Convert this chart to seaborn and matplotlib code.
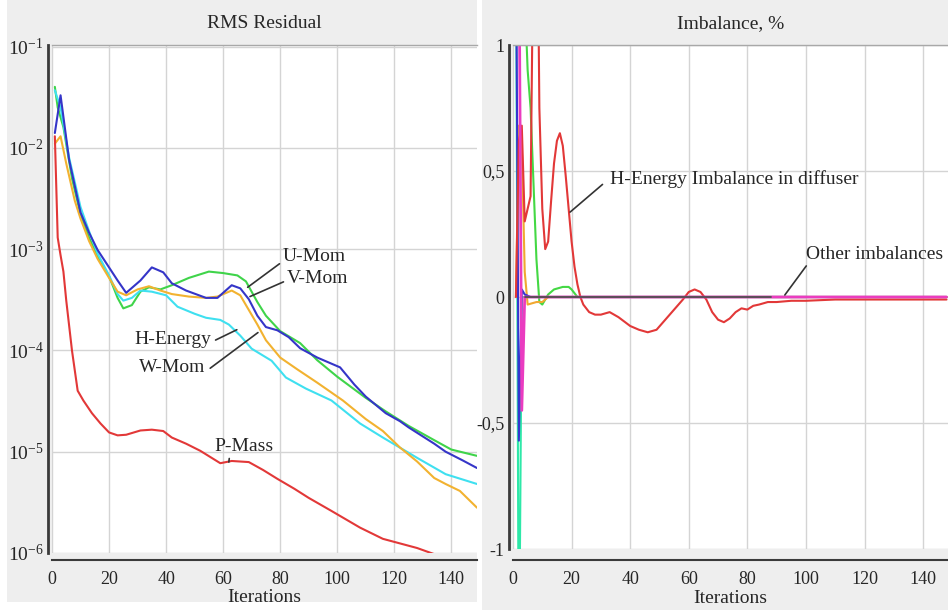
import matplotlib
matplotlib.use("Agg")
import matplotlib.pyplot as plt
from matplotlib.patches import Rectangle
from matplotlib.ticker import MultipleLocator, LogLocator, LogFormatterSciNotation, FuncFormatter, NullFormatter
import pandas as pd
import seaborn as sns

# ---------------- RMS residual histories ----------------
p_mass_iter = [1, 2, 3, 4, 5, 7, 9, 11, 14, 17, 20, 23, 26, 31, 35, 39, 42, 47, 52, 59,
               63, 69, 74, 79, 85, 90, 98, 108, 116, 128, 136, 141]
p_mass = [1.3e-2, 1.3e-3, 8.7e-4, 6.0e-4, 3.1e-4, 1.0e-4, 4.0e-5, 3.2e-5, 2.4e-5, 1.9e-5,
          1.55e-5, 1.45e-5, 1.47e-5, 1.62e-5, 1.65e-5, 1.6e-5, 1.38e-5, 1.2e-5, 1.02e-5, 7.7e-6,
          8.1e-6, 7.9e-6, 6.6e-6, 5.4e-6, 4.3e-6, 3.5e-6, 2.6e-6, 1.78e-6, 1.38e-6, 1.12e-6, 9.3e-7, 8.0e-7]

u_mom_iter = [1, 2, 4, 7, 10, 13, 16, 20, 23, 25, 28, 31, 34, 38, 42, 48, 55, 60, 65, 68,
              72, 75, 80, 87, 93, 100, 110, 117, 125, 134, 140, 149]
u_mom = [4.0e-2, 2.5e-2, 1.6e-2, 5.0e-3, 2.2e-3, 1.3e-3, 8.5e-4, 5.4e-4, 3.3e-4, 2.6e-4,
         2.8e-4, 3.8e-4, 4.2e-4, 4.0e-4, 4.4e-4, 5.2e-4, 6.0e-4, 5.8e-4, 5.5e-4, 4.8e-4,
         3.0e-4, 2.2e-4, 1.55e-4, 1.18e-4, 8.0e-5, 5.5e-5, 3.4e-5, 2.5e-5, 1.8e-5, 1.3e-5, 1.05e-5, 9.1e-6]

v_mom_iter = [1, 3, 6, 9, 10, 13, 16, 20, 23, 26, 31, 35, 39, 42, 47, 54, 58, 63, 66, 69,
              72, 75, 79, 83, 87, 93, 101, 106, 110, 117, 122, 125, 134, 138, 144, 149]
v_mom = [1.4e-2, 3.3e-2, 7.6e-3, 3.1e-3, 2.3e-3, 1.45e-3, 9.8e-4, 6.6e-4, 4.9e-4, 3.7e-4,
         4.9e-4, 6.6e-4, 5.9e-4, 4.6e-4, 3.9e-4, 3.3e-4, 3.3e-4, 4.4e-4, 4.1e-4, 3.2e-4,
         2.2e-4, 1.7e-4, 1.58e-4, 1.35e-4, 1.05e-4, 8.5e-5, 6.8e-5, 4.6e-5, 3.5e-5, 2.4e-5,
         2.0e-5, 1.74e-5, 1.2e-5, 1.0e-5, 8.2e-6, 6.9e-6]

w_mom_iter = [1, 3, 5, 8, 10, 13, 16, 20, 23, 26, 30, 34, 38, 42, 48, 54, 58, 63, 66, 68,
              72, 75, 80, 86, 93, 102, 110, 116, 122, 128, 134, 138, 143, 149]
w_mom = [1.1e-2, 1.3e-2, 7.0e-3, 3.0e-3, 2.0e-3, 1.2e-3, 8.0e-4, 5.2e-4, 3.8e-4, 3.5e-4,
         4.0e-4, 4.3e-4, 3.9e-4, 3.6e-4, 3.4e-4, 3.3e-4, 3.4e-4, 3.9e-4, 3.5e-4, 2.8e-4,
         1.8e-4, 1.26e-4, 8.5e-5, 6.5e-5, 4.8e-5, 3.2e-5, 2.1e-5, 1.6e-5, 1.1e-5, 8.0e-6,
         5.5e-6, 4.8e-6, 4.1e-6, 2.8e-6]

h_energy_iter = [1, 3, 6, 10, 13, 16, 20, 23, 25, 28, 31, 35, 40, 44, 50, 54, 59, 62, 66, 70,
                 77, 82, 89, 98, 108, 116, 128, 138, 149]
h_energy = [3.7e-2, 2.5e-2, 8.0e-3, 2.6e-3, 1.5e-3, 9.0e-4, 5.5e-4, 3.6e-4, 3.1e-4, 3.3e-4,
            3.9e-4, 3.8e-4, 3.5e-4, 2.7e-4, 2.3e-4, 2.1e-4, 2.0e-4, 1.8e-4, 1.4e-4, 1.04e-4,
            7.9e-5, 5.4e-5, 4.2e-5, 3.2e-5, 1.9e-5, 1.38e-5, 8.7e-6, 6.0e-6, 4.8e-6]

# ---------------- Imbalance histories, % ----------------
diffuser_iter = [1, 2, 3, 4, 6, 7, 8, 9, 10, 11, 12, 13, 14, 15, 16, 17, 18, 19, 20, 21, 22,
                 23, 24, 26, 28, 30, 33, 36, 40, 43, 46, 49, 52, 55, 58, 60, 62, 64, 66, 68, 70,
                 72, 74, 76, 78, 80, 82, 84, 87, 90, 95, 100, 110, 120, 130, 140, 148]
diffuser = [0.0, 0.62, 0.68, 0.3, 0.4, 1.5, 2.0, 0.75, 0.35, 0.19, 0.22, 0.38, 0.53, 0.62, 0.65,
            0.6, 0.48, 0.35, 0.22, 0.12, 0.05, 0.0, -0.03, -0.06, -0.07, -0.07, -0.06, -0.08,
            -0.115, -0.13, -0.14, -0.13, -0.09, -0.05, -0.01, 0.02, 0.03, 0.02, -0.01, -0.06,
            -0.09, -0.1, -0.085, -0.06, -0.045, -0.05, -0.035, -0.03, -0.02, -0.02, -0.015,
            -0.015, -0.01, -0.01, -0.01, -0.01, -0.01]

base_iter = [4, 88]
base = [0.0, 0.0]

green_iter = [1, 3, 4, 5, 6, 7, 8, 9, 10, 12, 14, 17, 19, 20, 22, 25, 148]
green = [1.5, 1.5, 1.2, 0.9, 0.75, 0.45, 0.15, -0.02, -0.03, 0.01, 0.03, 0.04, 0.04, 0.03, 0.0, 0.0, 0.0]

teal_iter = [1, 2, 3, 148]
teal = [1.5, -1.6, 0.0, 0.0]

blue_iter = [1, 2, 3, 4, 6, 100]
blue = [1.5, -0.57, 0.03, 0.01, 0.0, 0.0]

orange_iter = [1, 2, 3, 4, 5, 8, 10, 12, 148]
orange = [0.0, 0.68, 0.6, 0.1, -0.03, -0.02, -0.02, 0.0, 0.0]

magenta_iter = [1, 2, 3, 4, 5, 8, 148]
magenta = [1.5, 1.5, -0.45, 0.0, 0.0, 0.0, 0.0]

x_ticks = [0, 20, 40, 60, 80, 100, 120, 140]


def long_frame(series):
    parts = []
    for name, its, vals in series:
        parts.append(pd.DataFrame({"Iterations": its, "value": vals, "series": name}))
    return pd.concat(parts, ignore_index=True)


residuals = long_frame([
    ("U-Mom", u_mom_iter, u_mom),
    ("H-Energy", h_energy_iter, h_energy),
    ("W-Mom", w_mom_iter, w_mom),
    ("V-Mom", v_mom_iter, v_mom),
    ("P-Mass", p_mass_iter, p_mass),
])
res_palette = {"U-Mom": "#3fd44a", "H-Energy": "#3fe0f0", "W-Mom": "#f2b230",
               "V-Mom": "#3535c8", "P-Mass": "#e23838"}

imbalance = long_frame([
    ("green", green_iter, green),
    ("teal", teal_iter, teal),
    ("orange", orange_iter, orange),
    ("blue", blue_iter, blue),
    ("H-Energy diffuser", diffuser_iter, diffuser),
    ("magenta", magenta_iter, magenta),
    ("base", base_iter, base),
])
imb_palette = {"base": "#505050", "green": "#44d844", "teal": "#2ee8a8", "orange": "#f0a830",
               "blue": "#3535d0", "H-Energy diffuser": "#e23838", "magenta": "#ea3cc0"}
imb_widths = {"base": 1.3, "magenta": 2.0}

sns.set_style("white")
plt.rcParams["font.family"] = ["Liberation Serif", "DejaVu Serif"]
plt.rcParams["mathtext.fontset"] = "custom"
plt.rcParams["mathtext.rm"] = "Liberation Serif"
plt.rcParams["mathtext.default"] = "regular"

W, H = 948, 610
fig = plt.figure(figsize=(W / 100, H / 100), dpi=100)
fig.patch.set_facecolor("white")

panel_gray = "#eeeeee"
fig.add_artist(Rectangle((7 / W, (H - 602) / H), (477 - 7) / W, 602 / H,
                         transform=fig.transFigure, facecolor=panel_gray, edgecolor="none", zorder=0))
fig.add_artist(Rectangle((482 / W, 0), (W - 482) / W, 1,
                         transform=fig.transFigure, facecolor=panel_gray, edgecolor="none", zorder=0))


def px_axes(left, top, right, bottom):
    return fig.add_axes([left / W, (H - bottom) / H, (right - left) / W, (bottom - top) / H])


ax1 = px_axes(52, 45, 477, 553)
ax2 = px_axes(513, 45, 948, 549)

text_color = "#262626"
grid_color = "#d4d4d4"

# ---- left: RMS residual ----
sns.lineplot(data=residuals, x="Iterations", y="value", hue="series", palette=res_palette,
             estimator=None, sort=False, linewidth=1.5, legend=False, ax=ax1)
ax1.set_yscale("log")
ax1.set_xlim(0, 149)
ax1.set_ylim(1e-6, 10 ** -0.985)
ax1.yaxis.set_major_locator(LogLocator(base=10, numticks=10))
ax1.yaxis.set_minor_locator(LogLocator(base=10, subs=range(2, 10), numticks=10))
ax1.yaxis.set_major_formatter(LogFormatterSciNotation())
ax1.yaxis.set_minor_formatter(NullFormatter())

# ---- right: imbalances ----
sns.lineplot(data=imbalance, x="Iterations", y="value", hue="series", palette=imb_palette,
             estimator=None, sort=False, linewidth=1.5, legend=False, ax=ax2)
for name, line in zip(imbalance["series"].unique(), ax2.lines):
    if name in imb_widths:
        line.set_linewidth(imb_widths[name])
ax2.set_xlim(0, 148.5)
ax2.set_ylim(-1, 1)
ax2.yaxis.set_major_locator(MultipleLocator(0.5))
ax2.yaxis.set_minor_locator(MultipleLocator(0.1))
ax2.yaxis.set_major_formatter(FuncFormatter(lambda v, p: f"{v:g}".replace(".", ",")))

for ax, title in ((ax1, "RMS Residual"), (ax2, "Imbalance, %")):
    ax.set_facecolor("white")
    ax.set_xticks(x_ticks)
    ax.xaxis.set_minor_locator(MultipleLocator(5))
    ax.grid(True, which="major", color=grid_color, linewidth=1.0)
    ax.set_axisbelow(True)
    ax.spines["right"].set_visible(False)
    ax.spines["top"].set_color("#a8a8a8")
    ax.spines["top"].set_linewidth(1.0)
    ax.spines["left"].set_color("#3a3a3a")
    ax.spines["left"].set_linewidth(2.0)
    ax.spines["bottom"].set_color("#3a3a3a")
    ax.spines["bottom"].set_linewidth(1.5)
    ax.spines["left"].set_position(("outward", 3))
    ax.spines["bottom"].set_position(("outward", 5))
    ax.tick_params(axis="both", which="major", direction="in", length=4, width=1.2,
                   color="#3a3a3a", labelsize=13, labelcolor=text_color, pad=3)
    ax.tick_params(axis="x", which="major", pad=8)
    ax.tick_params(axis="both", which="minor", direction="in", length=2.5, width=1.0,
                   color="#3a3a3a")
    ax.set_xlabel("Iterations", fontsize=14, color=text_color, labelpad=1)
    ax.set_ylabel("")
    ax.set_title(title, fontsize=14, color=text_color, pad=12)

ax1.tick_params(axis="y", which="major", labelsize=14)
ax2.spines["bottom"].set_position(("outward", 8))

# ---- annotations ----
line_kw = dict(arrowstyle="-", color="#333333", lw=1.2, shrinkA=0, shrinkB=0)
ann_kw = dict(fontsize=14, color=text_color, va="center")

ax1.annotate("U-Mom", xy=(68.6, 4.2e-4), xytext=(80.9, 8.5e-4), ha="left",
             arrowprops=dict(**line_kw, relpos=(0, 0.2)), **ann_kw)
ax1.annotate("V-Mom", xy=(69.4, 3.4e-4), xytext=(82.3, 5.1e-4), ha="left",
             arrowprops=dict(**line_kw, relpos=(0, 0.4)), **ann_kw)
ax1.annotate("H-Energy", xy=(64.8, 1.6e-4), xytext=(56.0, 1.29e-4), ha="right",
             arrowprops=dict(**line_kw, relpos=(1.05, 0.45)), **ann_kw)
ax1.annotate("W-Mom", xy=(72.2, 1.5e-4), xytext=(53.6, 6.8e-5), ha="right",
             arrowprops=dict(**line_kw, relpos=(1.08, 0.45)), **ann_kw)
ax1.annotate("P-Mass", xy=(62.0, 7.9e-6), xytext=(57.1, 1.12e-5), ha="left",
             arrowprops=dict(**line_kw, relpos=(0.25, 0.0)), **ann_kw)

ax2.annotate("H-Energy Imbalance in diffuser", xy=(19.5, 0.337), xytext=(33.1, 0.468), ha="left",
             arrowprops=dict(**line_kw, relpos=(-0.03, 0.2)), **ann_kw)
ax2.annotate("Other imbalances", xy=(92.8, 0.008), xytext=(100.0, 0.17), ha="left",
             arrowprops=dict(**line_kw, relpos=(0.02, 0.0)), annotation_clip=False, **ann_kw)

fig.savefig("out.png", dpi=100, facecolor=fig.get_facecolor())
